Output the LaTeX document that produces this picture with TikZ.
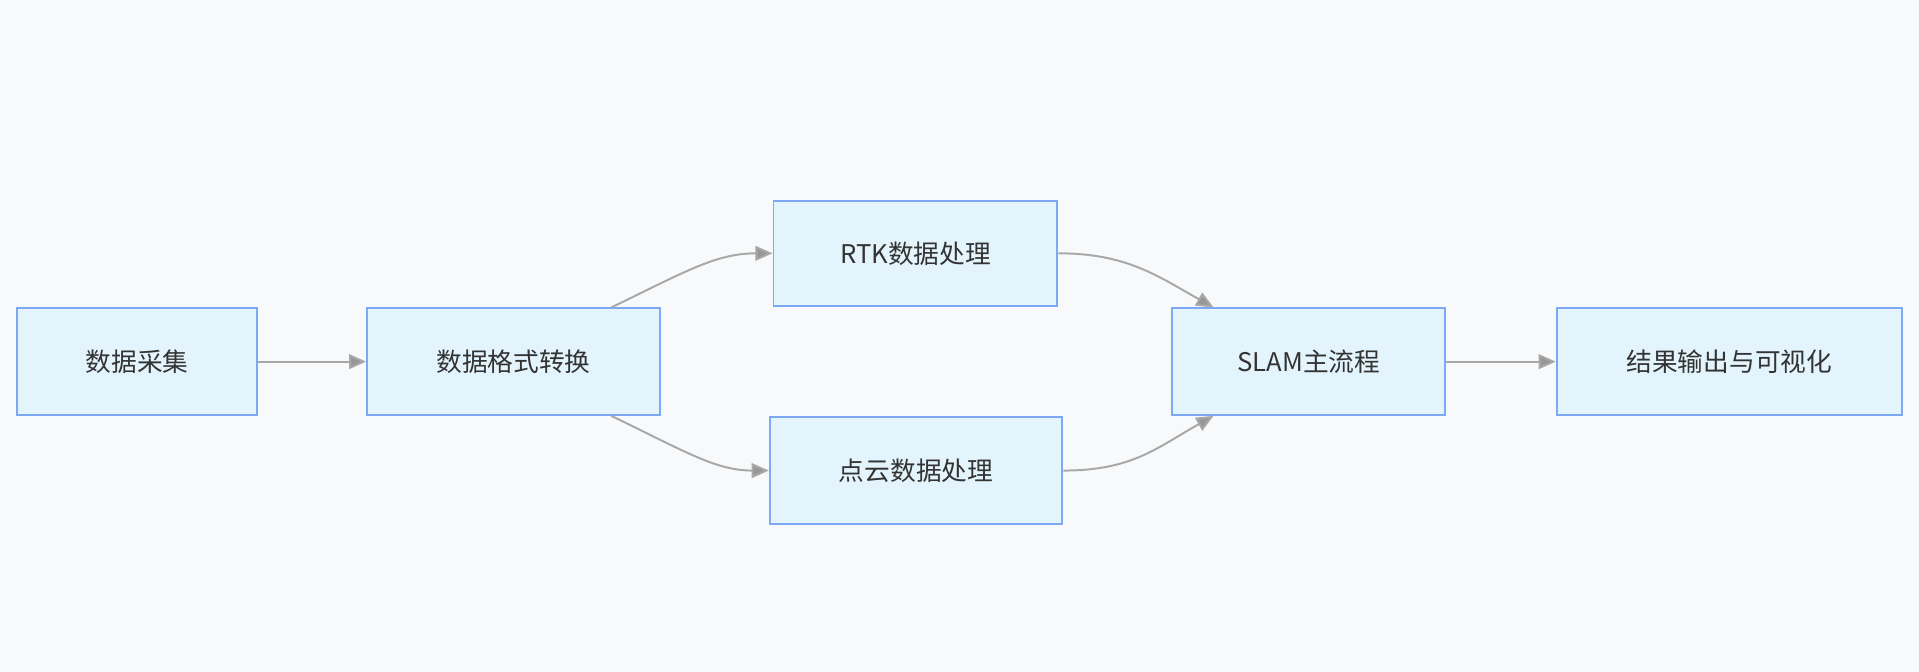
\documentclass[tikz,border=0pt]{standalone}
\usepackage{fontspec}
\setmainfont{Noto Sans CJK SC}
\usetikzlibrary{arrows.meta}
\definecolor{bg}{HTML}{F8F9FB}
\definecolor{nfill}{HTML}{E3F4FD}
\definecolor{ndraw}{HTML}{7DA9F4}
\definecolor{edge}{HTML}{A8A8A8}
\definecolor{txt}{HTML}{333333}
\begin{document}
\begin{tikzpicture}[x=0.5pt,y=-0.5pt,
  box/.style={draw=ndraw,fill=nfill,line width=0.8pt,inner sep=0pt,text=txt,font=\fontsize{10.5pt}{12pt}\selectfont},
  arr/.style={draw=edge,line width=0.8pt,-{Triangle[length=7pt,width=6pt,fill=edge!90!black]}}]
\fill[bg] (0,0) rectangle (1568,549);
\useasboundingbox (0,0) rectangle (1568,549);
\node[box,minimum width=98pt,minimum height=43.5pt] (a) at (112,295.5) {数据采集};
\node[box,minimum width=119.5pt,minimum height=43.5pt] (b) at (419.5,295.5) {数据格式转换};
\node[box,minimum width=116pt,minimum height=43pt] (c) at (748,207) {RTK数据处理};
\node[box,minimum width=119.5pt,minimum height=43.5pt] (d) at (748.5,384.5) {点云数据处理};
\node[box,minimum width=111.5pt,minimum height=43.5pt] (e) at (1069.5,295.5) {SLAM主流程};
\node[box,minimum width=141pt,minimum height=43.5pt] (f) at (1413,295.5) {结果输出与可视化};
\draw[arr] (a) -- (b);
\draw[arr] (e) -- (f);
\draw[arr] ([xshift=40pt]b.north) .. controls (560,222) and (585,207) .. (c.west);
\draw[arr] ([xshift=40pt]b.south) .. controls (560,369) and (585,384.5) .. (d.west);
\draw[arr] (c.east) .. controls (920,207) and (945,225) .. ([xshift=-39pt]e.north);
\draw[arr] (d.east) .. controls (925,384.5) and (945,366) .. ([xshift=-39pt]e.south);
\end{tikzpicture}
\end{document}
